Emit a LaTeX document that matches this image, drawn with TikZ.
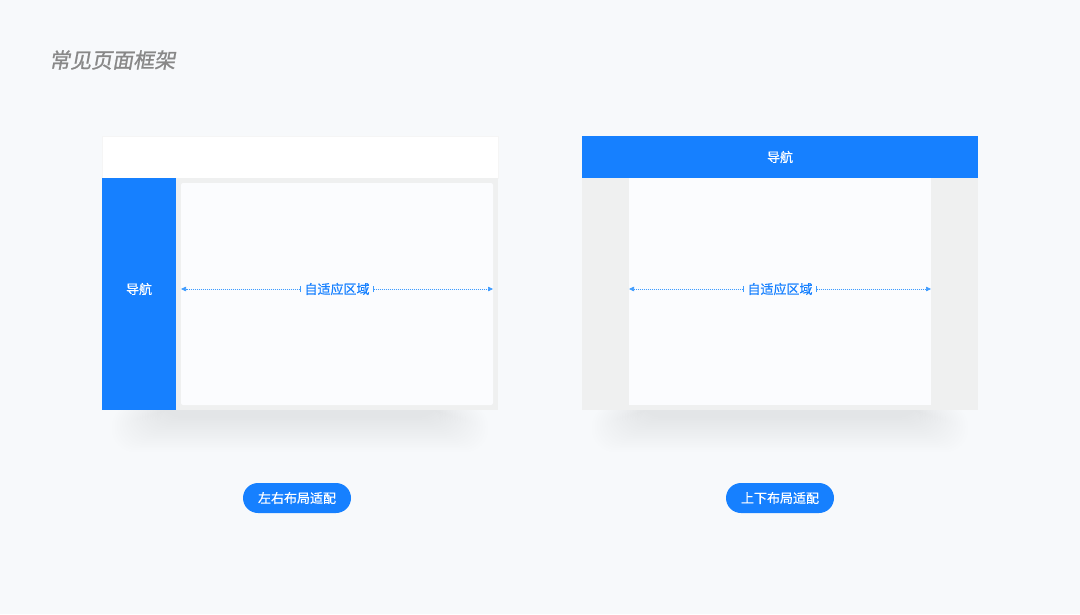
\documentclass[tikz,border=0pt]{standalone}
\usepackage{fontspec}
\setmainfont{Noto Sans CJK SC}
\newfontfamily\titlefont[FakeSlant=0.18,FakeBold=0.9]{Noto Sans CJK SC}
\newfontfamily\medfont[FakeBold=0.5]{Noto Sans CJK SC}
\usetikzlibrary{arrows.meta}
\definecolor{bgc}{HTML}{F7F9FB}
\definecolor{navblue}{RGB}{22,128,255}
\definecolor{graybg}{HTML}{EFF0F0}
\definecolor{contentc}{HTML}{FBFCFE}
\definecolor{dimblue}{HTML}{3D9BFF}
\definecolor{titlegray}{HTML}{888888}
\tikzset{
  box/.style={draw=none, inner sep=0pt, outer sep=0pt},
  navbox/.style={box, fill=navblue, text=white, font=\medfont\fontsize{13}{15}\selectfont},
  contentbox/.style={box, fill=contentc, rounded corners=2pt},
  dimlabel/.style={fill=contentc, text=navblue, inner sep=2.5pt, font=\medfont\fontsize{13}{15}\selectfont},
  dimline/.style={draw=dimblue, line width=0.6pt, dash pattern=on 1.2pt off 0.8pt,
     arrows={{Bar[width=6pt,line width=0.6pt,sep=1pt]}-{Triangle[length=5pt,width=4.5pt]}}},
  pillbox/.style={fill=navblue, text=white, rounded corners=15pt, minimum width=108pt,
     minimum height=30pt, inner sep=0pt, font=\medfont\fontsize{13}{15}\selectfont},
}
\begin{document}
\begin{tikzpicture}[x=1pt,y=-1pt]
\fill[bgc] (0,0) rectangle (1080,614);
\useasboundingbox (0,0) rectangle (1080,614);

% title
\node[anchor=west, text=titlegray, inner sep=0pt] (title) at (49,60)
  {\titlefont\fontsize{21}{25}\selectfont 常见页面框架};

% soft shadows
\foreach \i in {0,...,19}{
  \fill[black, opacity=0.005, rounded corners=22pt] (112+\i*2.5,404) rectangle (488-\i*2.5,452-\i*1.8);
  \fill[black, opacity=0.005, rounded corners=22pt] (592+\i*2.5,404) rectangle (968-\i*2.5,452-\i*1.8);
}

% ---------- left frame ----------
\node[box, fill=white, minimum width=396pt, minimum height=42pt, draw=black!4, line width=0.4pt] (lhead) at (300,157) {};
\node[box, fill=graybg, minimum width=322pt, minimum height=232pt] (lgray) at (337,294) {};
\node[navbox, minimum width=74pt, minimum height=232pt] (lnav) at (139,294) {\smash{导航}};
\node[contentbox, minimum width=312pt, minimum height=222pt] (lcontent) at (337,294) {};
\node[dimlabel] (llabel) at (337,289) {自适应区域};
\coordinate (la) at (181,289);
\coordinate (lb) at (493,289);
\draw[dimline] (llabel.west) -- (la);
\draw[dimline] (llabel.east) -- (lb);

% ---------- right frame ----------
\node[box, fill=graybg, minimum width=396pt, minimum height=232pt] (rgray) at (780,294) {};
\node[navbox, minimum width=396pt, minimum height=42pt] (rhead) at (780,157) {导航};
\node[contentbox, rounded corners=0pt, minimum width=302pt, minimum height=227pt] (rcontent) at (780,291.5) {};
\node[dimlabel] (rlabel) at (780,289) {自适应区域};
\coordinate (ra) at (629,289);
\coordinate (rb) at (931,289);
\draw[dimline] (rlabel.west) -- (ra);
\draw[dimline] (rlabel.east) -- (rb);

% pills
\node[pillbox] (lpill) at (297,498) {左右布局适配};
\node[pillbox] (rpill) at (780,498) {上下布局适配};
\end{tikzpicture}
\end{document}
